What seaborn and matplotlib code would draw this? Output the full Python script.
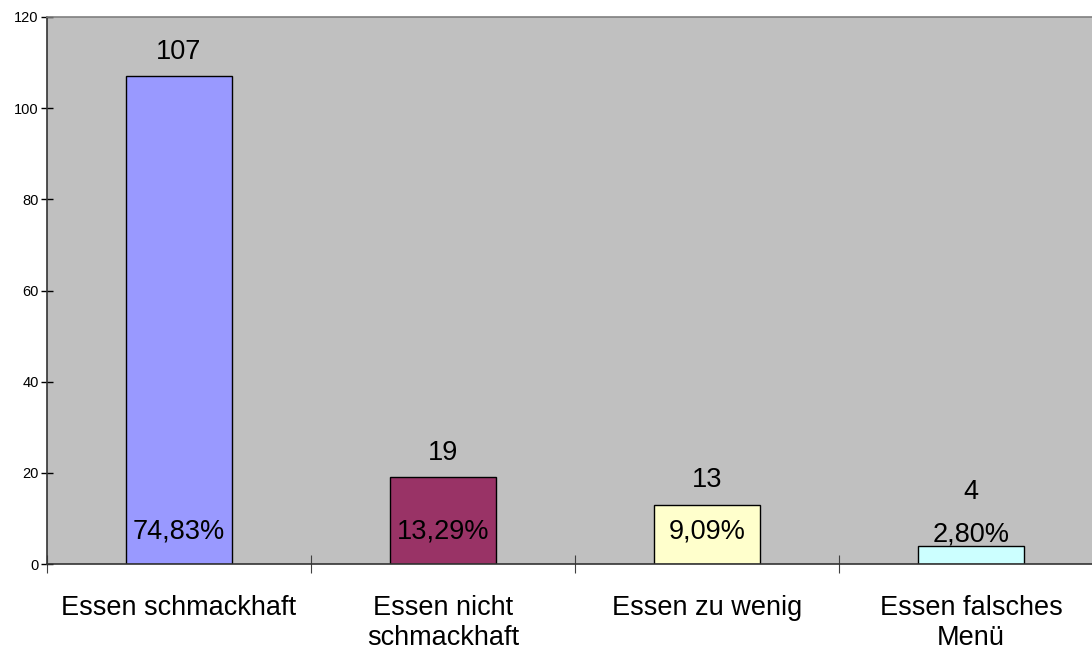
import pandas as pd
import matplotlib.pyplot as plt
import seaborn as sns

# Daten aus der Abbildung
kategorien = ["Essen schmackhaft", "Essen nicht\nschmackhaft", "Essen zu wenig", "Essen falsches\nMenü"]
anzahl = [107, 19, 13, 4]
prozent = ["74,83%", "13,29%", "9,09%", "2,80%"]
farben = ["#9999FF", "#993366", "#FFFFCC", "#CCFFFF"]
y_ticks = [0, 20, 40, 60, 80, 100, 120]

df = pd.DataFrame({"kategorie": kategorien, "anzahl": anzahl})

sns.set_style("white", {"xtick.bottom": True, "ytick.left": True,
                        "text.color": "black", "xtick.color": "black",
                        "ytick.color": "black"})
plt.rcParams["font.family"] = ["Liberation Sans", "DejaVu Sans"]

fig = plt.figure(figsize=(10.92, 6.51), dpi=100)
# Zeichenfläche reicht etwas über den rechten Bildrand hinaus
ax = fig.add_axes([47 / 1092, 87 / 651, 1056 / 1092, 547 / 651])
ax.set_facecolor("#C0C0C0")

sns.barplot(data=df, x="kategorie", y="anzahl", hue="kategorie",
            palette=farben, legend=False, width=0.40,
            edgecolor="black", linewidth=1, saturation=1, ax=ax)

# Beschriftungen: Anzahl oberhalb, Prozent im Balken unten
for i, (n, p) in enumerate(zip(anzahl, prozent)):
    ax.text(i, max(n + 5.4, 15.8), str(n), ha="center", va="center", fontsize=19.5, color="black")
    ax.text(i, 7.2 if n > 6 else 6.5, p, ha="center", va="center", fontsize=19.5, color="black")

ax.set_xlim(-0.5, len(kategorien) - 0.5)
ax.set_ylim(0, 120)
ax.set_yticks(y_ticks)
ax.tick_params(axis="y", left=True, direction="inout", length=8, width=1,
               labelsize=10.5, pad=2, colors="black")

# Kategorie-Trennstriche auf der x-Achse
ax.set_xticks([i - 0.5 for i in range(len(kategorien) + 1)], minor=True)
ax.tick_params(axis="x", which="minor", bottom=True, direction="inout",
               length=13, width=0.8, color="#404040")
ax.tick_params(axis="x", which="major", length=0, labelsize=19.5, pad=22,
               labelcolor="black")
ax.set_xlabel("")
ax.set_ylabel("")

for side in ["left", "bottom"]:
    ax.spines[side].set_color("#333333")
    ax.spines[side].set_linewidth(1.2)
ax.spines["top"].set_color("#808080")
ax.spines["top"].set_linewidth(1.2)
ax.spines["right"].set_visible(False)

fig.savefig("out.png", dpi=100)
